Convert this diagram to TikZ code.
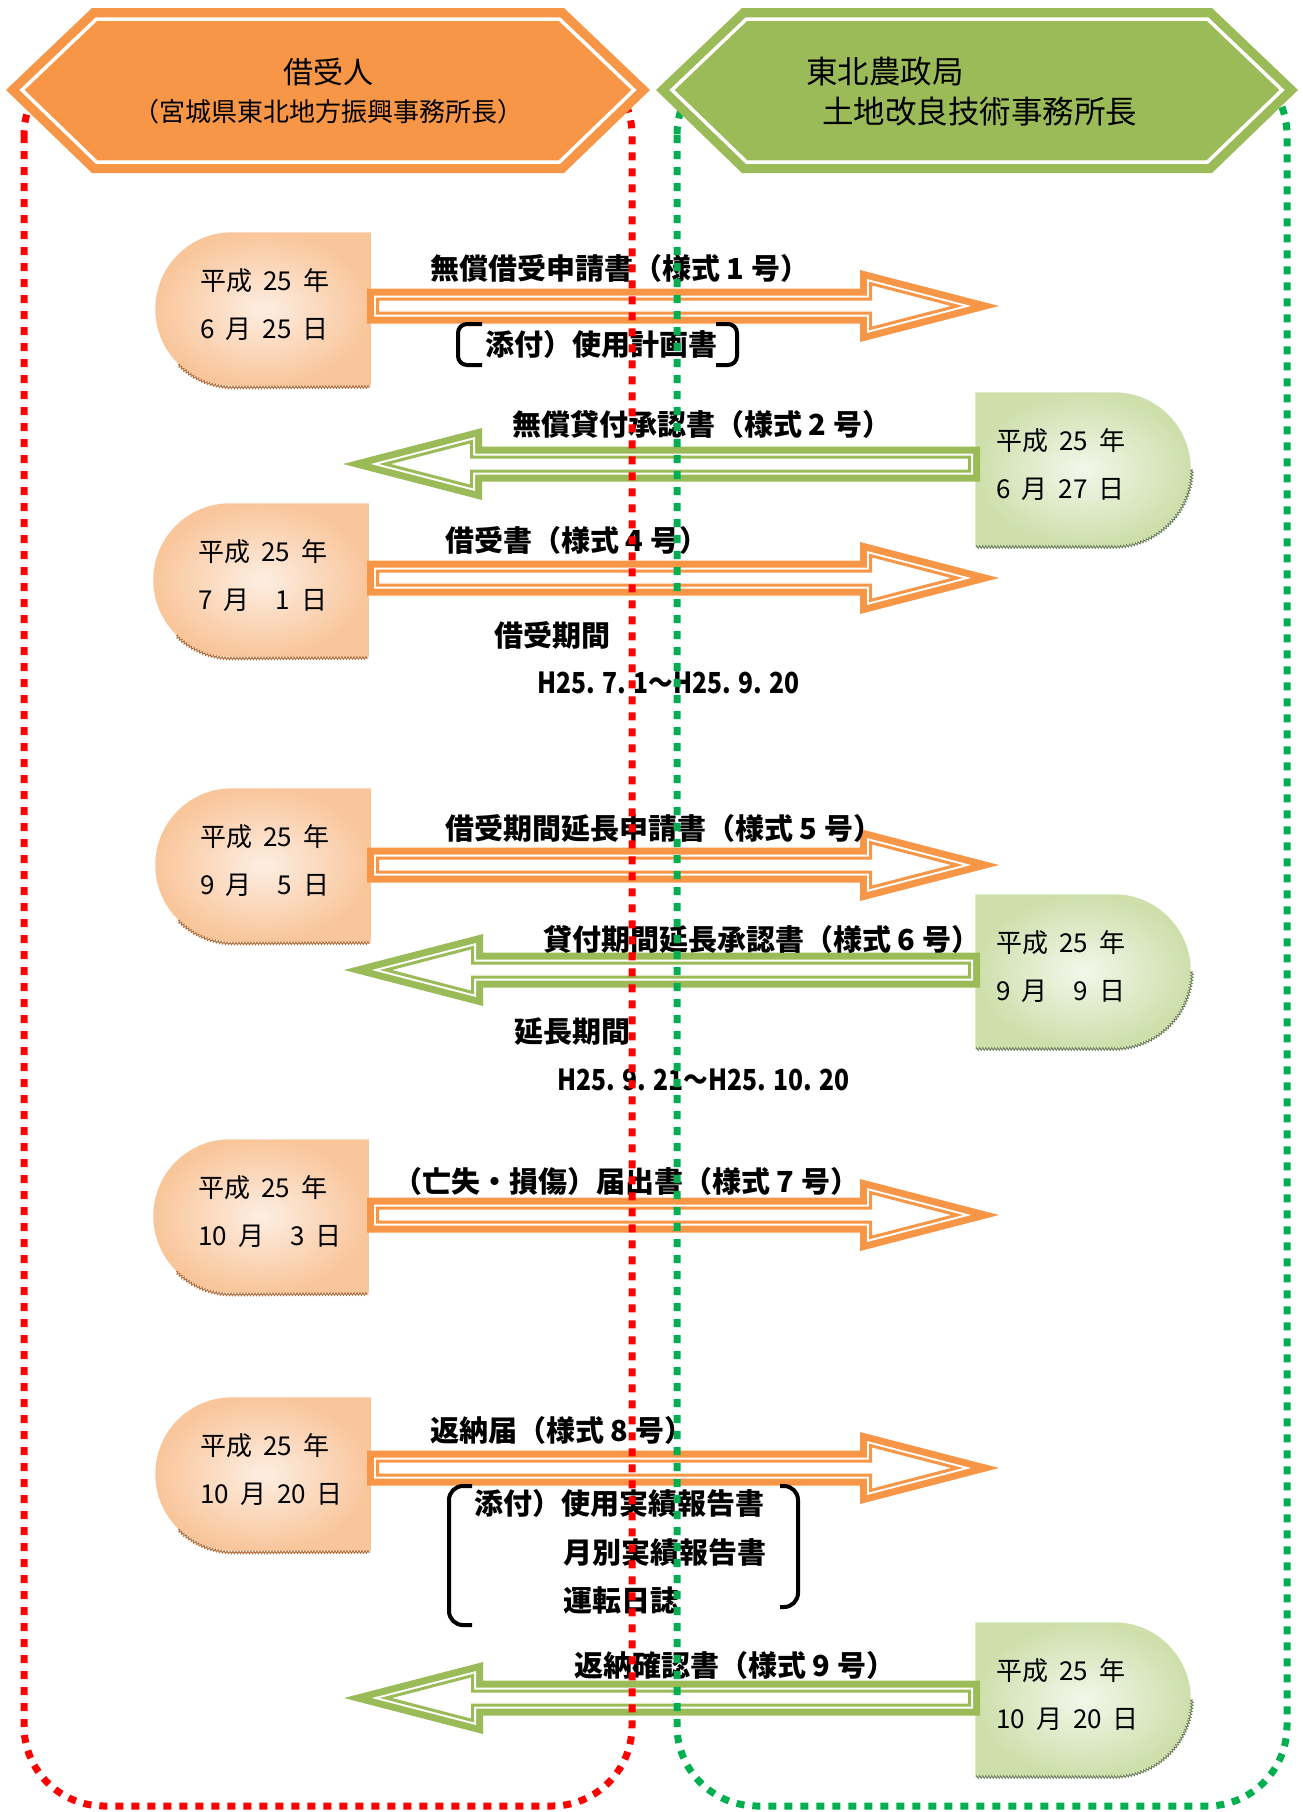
\documentclass[tikz,border=0pt]{standalone}
\usepackage{fontspec}
\setmainfont{Noto Sans CJK JP}
\usetikzlibrary{positioning, decorations.pathmorphing}
\definecolor{hexorange}{HTML}{F79646}
\definecolor{hexgreen}{HTML}{9BBB59}
\definecolor{dotred}{HTML}{FF0000}
\definecolor{dotgreen}{HTML}{00B050}
\definecolor{peach}{RGB}{249,198,156}
\definecolor{peachlight}{RGB}{253,238,226}
\definecolor{sage}{RGB}{206,223,172}
\definecolor{sagelight}{RGB}{243,247,234}
\definecolor{zigbrown}{RGB}{176,110,60}
\definecolor{ziggreen}{RGB}{110,130,90}
\newcommand{\gap}{\hspace{11pt}}
\tikzset{
  lbl/.style = {anchor=west, inner sep=0pt, font=\fontsize{29}{33}\selectfont\bfseries},
  period/.style = {lbl, xscale=0.85, transform shape},
  dt/.style = {anchor=west, inner sep=0pt, font=\fontsize{26}{30}\selectfont},
  hd/.style = {inner sep=0pt, font=\fontsize{30}{34}\selectfont},
  brk/.style = {line width=4pt, rounded corners=9pt},
  zig/.style = {line width=1pt, decorate, decoration={zigzag, segment length=3pt, amplitude=1.2pt}},
  loopline/.style = {line width=7pt, dash pattern=on 8pt off 8pt, rounded corners=80pt}
}
\newcommand{\arrowpath}[2]{({-#1*3.989},0) -- ({-139+#1},{-36+#1*1.292}) -- ({-139+#1},{-17.5+#1}) -- ({-#2+#1},{-17.5+#1}) -- ({-#2+#1},{17.5-#1}) -- ({-139+#1},{17.5-#1}) -- ({-139+#1},{36-#1*1.292}) -- cycle}
\newcommand{\blockarrow}[5]{%
  \begin{scope}[shift={(#1,#2)}, xscale=#5]
    \fill[#4] \arrowpath{0}{#3};
    \fill[white] \arrowpath{7}{#3};
    \draw[#4, line width=3pt] \arrowpath{10.5}{#3};
  \end{scope}}
\newcommand{\hexpath}[3]{({#1+#3*1.45},90) -- ({#1+86+#3*0.41},{8+#3}) -- ({#2-86-#3*0.41},{8+#3}) -- ({#2-#3*1.45},90) -- ({#2-86-#3*0.41},{173-#3}) -- ({#1+86+#3*0.41},{173-#3}) -- cycle}
\newcommand{\lenderdate}[4]{%
  \shadedraw[inner color=peachlight, outer color=peach, draw=peach, line width=1.5pt]
    ({#2+76},#3) -- ({#2+214},#3) -- ({#2+214},{#3+152}) -- ({#2+76},{#3+152}) arc[start angle=90, end angle=270, radius=76] -- cycle;
  \draw[zig, zigbrown] ({#2+76-53.7},{#3+131.7}) arc[start angle=135, end angle=90, radius=78] -- ({#2+214},{#3+154});
  \node[dt] (#1a) at ({#2+44},{#3+48}) {平成\gap 25\gap 年};
  \node[dt] (#1b) at ({#2+44},{#3+96}) {#4};}
\newcommand{\bureaudate}[4]{%
  \shadedraw[inner color=sagelight, outer color=sage, draw=sage, line width=1.5pt]
    (#2,#3) -- ({#2+138},#3) arc[start angle=270, end angle=450, radius=76] -- (#2,{#3+152}) -- cycle;
  \draw[zig, ziggreen] (#2,{#3+154}) -- ({#2+138},{#3+154}) arc[start angle=90, end angle=0, radius=78];
  \node[dt] (#1a) at ({#2+20},{#3+48}) {平成\gap 25\gap 年};
  \node[dt] (#1b) at ({#2+20},{#3+96}) {#4};}

\begin{document}
\begin{tikzpicture}[x=1pt, y=-1pt]
\useasboundingbox (0,0) rectangle (1302,1812);

\lenderdate{o1}{156}{233}{6\gap 月\gap 25\gap 日}
\lenderdate{o2}{154}{504}{7\gap 月　1\gap 日}
\lenderdate{o3}{156}{789}{9\gap 月　5\gap 日}
\lenderdate{o4}{154}{1140}{10\gap 月　3\gap 日}
\lenderdate{o5}{156}{1398}{10\gap 月\gap 20\gap 日}
\bureaudate{g1}{976}{393}{6\gap 月\gap 27\gap 日}
\bureaudate{g2}{976}{895}{9\gap 月　9\gap 日}
\bureaudate{g3}{976}{1623}{10\gap 月\gap 20\gap 日}

\blockarrow{999}{306}{632}{hexorange}{1}
\blockarrow{343}{464}{637}{hexgreen}{-1}
\blockarrow{999}{578}{632}{hexorange}{1}
\blockarrow{999}{865}{632}{hexorange}{1}
\blockarrow{344}{970}{636}{hexgreen}{-1}
\blockarrow{999}{1215}{632}{hexorange}{1}
\blockarrow{999}{1468}{632}{hexorange}{1}
\blockarrow{344}{1698}{636}{hexgreen}{-1}

\node[lbl] (req) at (430,268) {無償借受申請書（様式 1 号）};
\node[lbl] (plan) at (485,344) {添付）使用計画書};
\draw[brk] (482,324) -- (458,324) -- (458,365) -- (482,365);
\draw[brk] (716,324) -- (737,324) -- (737,365) -- (716,365);
\node[lbl] (grant) at (512,424) {無償貸付承認書（様式 2 号）};
\node[lbl] (receipt) at (445,540) {借受書（様式 4 号）};
\node[lbl] (term) at (494,635) {借受期間};
\node[period] (termdates) at (537,683) {H25. 7. 1～H25. 9. 20};
\node[lbl] (extreq) at (445,828) {借受期間延長申請書（様式 5 号）};
\node[lbl] (extok) at (543,939) {貸付期間延長承認書（様式 6 号）};
\node[lbl] (ext) at (514,1032) {延長期間};
\node[period] (extdates) at (557,1080) {H25. 9. 21～H25. 10. 20};
\node[lbl] (loss) at (393,1181) {（亡失・損傷）届出書（様式 7 号）};
\node[lbl] (ret) at (430,1430) {返納届（様式 8 号）};
\node[lbl] (att1) at (474,1503) {添付）使用実績報告書};
\node[lbl] (att2) at (563,1552) {月別実績報告書};
\node[lbl] (att3) at (563,1600) {運転日誌};
\draw[brk, rounded corners=14pt] (472,1486) -- (449,1486) -- (449,1625) -- (472,1625);
\draw[brk, rounded corners=14pt] (780,1486) -- (798,1486) -- (798,1607) -- (780,1607);
\node[lbl] (retok) at (574,1665) {返納確認書（様式 9 号）};

\draw[loopline, dotred] (24,55) rectangle (632,1806);
\draw[loopline, dotgreen] (677,55) rectangle (1287,1806);

\fill[hexorange] \hexpath{6}{650}{0};
\draw[white, line width=3.5pt] \hexpath{6}{650}{11};
\fill[hexgreen] \hexpath{656}{1298}{0};
\draw[white, line width=3.5pt] \hexpath{656}{1298}{11};
\node[hd] (lender) at (328,72) {借受人};
\node[hd, font=\fontsize{26}{30}\selectfont] (lenderoffice) at (328,112) {（宮城県東北地方振興事務所長）};
\node[hd, anchor=west, font=\fontsize{31.5}{34}\selectfont] (bureau) at (806,72) {東北農政局};
\node[hd, anchor=west, font=\fontsize{31.5}{34}\selectfont] (bureauoffice) at (822,112) {土地改良技術事務所長};
\end{tikzpicture}
\end{document}
